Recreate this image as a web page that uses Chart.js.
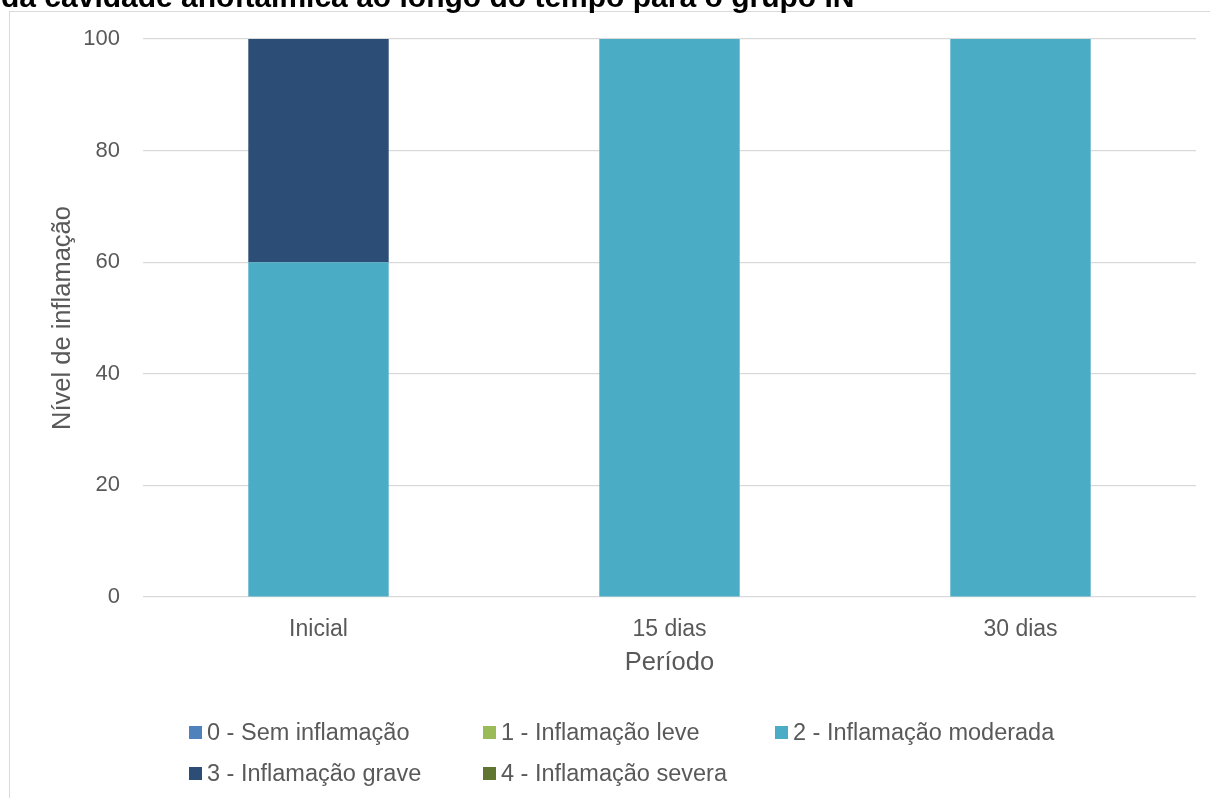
<!DOCTYPE html>
<html lang="pt">
<head>
<meta charset="utf-8">
<title>Nível de inflamação por período</title>
<script src="https://cdn.jsdelivr.net/npm/chart.js@4.4.1/dist/chart.umd.min.js"></script>
<style>
    html, body { margin: 0; padding: 0; background: #fff; overflow: hidden; }
    #wrap { position: relative; width: 1210px; height: 798px; }
    #frame {
        position: absolute; left: 9px; top: 11px; width: 1300px; height: 900px;
        border-left: 1px solid #d9d9d9; border-top: 1px solid #d9d9d9;
    }
    #chart { position: absolute; left: 0; top: 0; }
    #legend {
        position: absolute; left: 189px; top: 718px; width: 1000px;
        font-family: "Liberation Sans", Arial, sans-serif; font-size: 23.5px; color: #595959;
    }
    .legend-item {
        position: absolute; display: flex; align-items: center; white-space: nowrap; height: 28px;
    }
    .legend-box { width: 13px; height: 13px; margin-right: 5px; }
</style>
</head>
<body>
<div id="wrap">
    <div id="frame"></div>
    <canvas id="chart" width="1210" height="798"></canvas>
    <div id="legend"></div>
</div>
<script>
// Períodos de avaliação e percentuais por nível de inflamação
const periods = ['Inicial', '15 dias', '30 dias'];
const levelLabels = [
    '0 - Sem inflamação',
    '1 - Inflamação leve',
    '2 - Inflamação moderada',
    '3 - Inflamação grave',
    '4 - Inflamação severa'
];
const semInflamacao = [0, 0, 0];
const inflamacaoLeve = [0, 0, 0];
const inflamacaoModerada = [60, 100, 100];
const inflamacaoGrave = [40, 0, 0];
const inflamacaoSevera = [0, 0, 0];
const yTickValues = [0, 20, 40, 60, 80, 100];

const levelColors = ['#4f81bd', '#9bbb59', '#4bacc6', '#2c4d75', '#5f7530'];
const chartTitle = 'da cavidade anoftálmica ao longo do tempo para o grupo IN';

const FONT = '"Liberation Sans", Arial, sans-serif';
const TEXT_COLOR = '#595959';

const seriesValues = [semInflamacao, inflamacaoLeve, inflamacaoModerada, inflamacaoGrave, inflamacaoSevera];

const datasets = seriesValues.map((values, i) => ({
    label: levelLabels[i],
    data: values,
    backgroundColor: levelColors[i],
    borderWidth: 0,
    barPercentage: 0.4,
    categoryPercentage: 1.0
}));

// título (só a parte de baixo aparece no topo da página)
const titlePlugin = {
    id: 'topTitle',
    afterDraw(chart) {
        const ctx = chart.ctx;
        ctx.save();
        ctx.font = 'bold 30px ' + FONT;
        ctx.fillStyle = '#000';
        ctx.textAlign = 'left';
        ctx.textBaseline = 'alphabetic';
        ctx.fillText(chartTitle, 1, 7);
        ctx.restore();
    }
};

const chart = new Chart(document.getElementById('chart'), {
    type: 'bar',
    data: { labels: periods, datasets: datasets },
    options: {
        responsive: false,
        animation: false,
        layout: { padding: { left: 0, right: 14, top: 39, bottom: 101 } },
        plugins: {
            legend: { display: false },
            title: { display: false },
            tooltip: { enabled: false }
        },
        scales: {
            x: {
                stacked: true,
                grid: { display: false },
                border: { display: false },
                ticks: {
                    color: TEXT_COLOR,
                    font: { family: FONT, size: 23 },
                    padding: 11
                },
                title: {
                    display: true,
                    text: 'Período',
                    color: TEXT_COLOR,
                    font: { family: FONT, size: 25.5 },
                    padding: { top: 0, bottom: 19 }
                },
                afterFit(scale) { scale.height = 100; }
            },
            y: {
                stacked: true,
                min: 0,
                max: 100,
                afterBuildTicks(scale) {
                    scale.ticks = yTickValues.map(v => ({ value: v }));
                },
                grid: { color: '#d9d9d9', lineWidth: 1.2, drawTicks: false },
                border: { display: false },
                ticks: {
                    color: TEXT_COLOR,
                    font: { family: FONT, size: 22 },
                    padding: 23
                },
                title: {
                    display: true,
                    text: 'Nível de inflamação',
                    color: TEXT_COLOR,
                    font: { family: FONT, size: 25.5 },
                    padding: { top: 48, bottom: 0 }
                },
                afterFit(scale) { scale.width = 143; }
            }
        }
    },
    plugins: [titlePlugin]
});

// legenda em grade: três colunas por linha
const legendEl = document.getElementById('legend');
const colX = [0, 294, 586];
const rowY = [0, 41];
chart.data.datasets.forEach((ds, i) => {
    const item = document.createElement('div');
    item.className = 'legend-item';
    item.style.left = colX[i % 3] + 'px';
    item.style.top = rowY[Math.floor(i / 3)] + 'px';
    const box = document.createElement('span');
    box.className = 'legend-box';
    box.style.background = ds.backgroundColor;
    const text = document.createElement('span');
    text.textContent = ds.label;
    item.appendChild(box);
    item.appendChild(text);
    legendEl.appendChild(item);
});
</script>
</body>
</html>
